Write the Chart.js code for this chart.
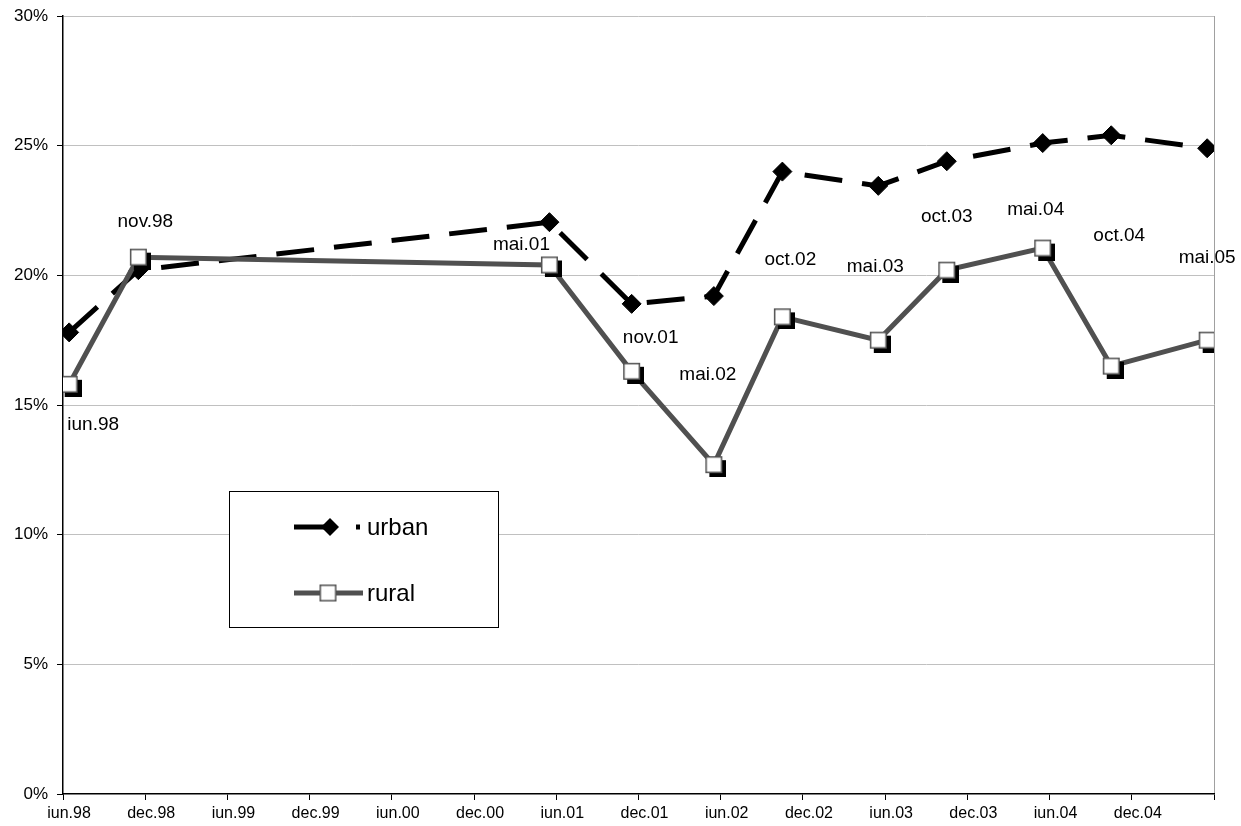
<!DOCTYPE html>
<html>
<head>
<meta charset="utf-8">
<script src="https://cdn.jsdelivr.net/npm/chart.js@4.4.0/dist/chart.umd.min.js"></script>
<style>
  html, body { margin: 0; padding: 0; background: #fff; }
</style>
</head>
<body>
<canvas id="my-chart" width="1241" height="826"></canvas>
<script>
// survey rounds (month index counted from june 1998)
const categories = ['iun.98', 'nov.98', 'mai.01', 'nov.01', 'mai.02', 'oct.02', 'mai.03', 'oct.03', 'mai.04', 'oct.04', 'mai.05'];
const monthPos = [0.45, 5.5, 35.5, 41.5, 47.5, 52.5, 59.5, 64.5, 71.5, 76.5, 83.5];
const urban = [17.8, 20.2, 22.05, 18.9, 19.2, 24.0, 23.45, 24.4, 25.1, 25.4, 24.9];
const rural = [15.8, 20.7, 20.4, 16.3, 12.7, 18.4, 17.5, 20.2, 21.05, 16.5, 17.5];
const tickLabels = ['iun.98', 'dec.98', 'iun.99', 'dec.99', 'iun.00', 'dec.00', 'iun.01', 'dec.01', 'iun.02', 'dec.02', 'iun.03', 'dec.03', 'iun.04', 'dec.04'];

// where the round names sit, in px from the rural point
const labelOffsets = [[24, 41], [7, -35], [-28, -20], [19, -34], [-6, -90], [8, -57], [-3, -73], [0, -53], [-7, -38], [8, -130], [0, -82]];

const FONT = '"Liberation Sans", Arial, sans-serif';
const GREY = '#505050';

// white square with a black drop shadow, used as the rural marker
function squareMarker(shadow) {
  const c = document.createElement('canvas');
  c.width = 25; c.height = 25;
  const g = c.getContext('2d');
  if (shadow) {
    g.fillStyle = '#000';
    g.fillRect(8, 8, 17, 17);
  }
  g.fillStyle = '#fff';
  g.fillRect(4, 4, 17, 17);
  g.strokeStyle = GREY;
  g.lineWidth = 1.5;
  g.strokeRect(4.75, 4.75, 15.5, 15.5);
  return c;
}
const ruralMarker = squareMarker(true);
const legendMarker = squareMarker(false);

const roundLabels = {
  id: 'roundLabels',
  afterDatasetsDraw(chart) {
    const ctx = chart.ctx;
    const meta = chart.getDatasetMeta(1);
    ctx.save();
    ctx.font = '19px ' + FONT;
    ctx.fillStyle = '#000';
    ctx.textAlign = 'center';
    ctx.textBaseline = 'middle';
    meta.data.forEach((pt, i) => {
      ctx.fillText(categories[i], pt.x + labelOffsets[i][0], pt.y + labelOffsets[i][1]);
    });
    ctx.restore();
  }
};

const boxLegend = {
  id: 'boxLegend',
  afterDraw(chart) {
    const ctx = chart.ctx;
    const a = chart.chartArea;
    const x = a.left + 166, y = a.top + 475, w = 269, h = 136;
    ctx.save();
    ctx.fillStyle = '#fff';
    ctx.fillRect(x, y, w, h);
    ctx.strokeStyle = '#000';
    ctx.lineWidth = 1;
    ctx.strokeRect(x + 0.5, y + 0.5, w, h);

    // urban
    const y1 = y + 36;
    ctx.strokeStyle = '#000';
    ctx.lineWidth = 5;
    ctx.setLineDash([33, 29]);
    ctx.beginPath();
    ctx.moveTo(x + 65, y1);
    ctx.lineTo(x + 131, y1);
    ctx.stroke();
    ctx.setLineDash([]);
    ctx.fillStyle = '#000';
    ctx.beginPath();
    ctx.moveTo(x + 101, y1 - 9);
    ctx.lineTo(x + 110, y1);
    ctx.lineTo(x + 101, y1 + 9);
    ctx.lineTo(x + 92, y1);
    ctx.closePath();
    ctx.fill();

    // rural
    const y2 = y + 102;
    ctx.strokeStyle = GREY;
    ctx.beginPath();
    ctx.moveTo(x + 65, y2);
    ctx.lineTo(x + 134, y2);
    ctx.stroke();
    ctx.drawImage(legendMarker, x + 99 - 12.5, y2 - 12.5);

    ctx.fillStyle = '#000';
    ctx.font = '24px ' + FONT;
    ctx.textAlign = 'left';
    ctx.textBaseline = 'middle';
    ctx.fillText('urban', x + 138, y1 + 1);
    ctx.fillText('rural', x + 138, y2 + 1);
    ctx.restore();
  }
};

const ctx = document.getElementById('my-chart').getContext('2d');
const chart = new Chart(ctx, {
  type: 'line',
  data: {
    datasets: [
      {
        label: 'urban',
        data: monthPos.map((m, i) => ({ x: m, y: urban[i] })),
        borderColor: '#000',
        borderWidth: 5,
        borderDash: [38, 20],
        pointStyle: 'rectRot',
        pointRadius: 9.5,
        pointBackgroundColor: '#000',
        pointBorderColor: '#000',
        pointBorderWidth: 1,
        tension: 0,
        order: 1
      },
      {
        label: 'rural',
        data: monthPos.map((m, i) => ({ x: m, y: rural[i] })),
        borderColor: GREY,
        borderWidth: 5,
        pointStyle: ruralMarker,
        pointRadius: 9,
        tension: 0,
        order: 0
      }
    ]
  },
  options: {
    responsive: false,
    animation: false,
    devicePixelRatio: 1,
    layout: { padding: { top: 16, right: 27, left: 0, bottom: 0 } },
    plugins: {
      legend: { display: false },
      tooltip: { enabled: false }
    },
    scales: {
      x: {
        type: 'linear',
        min: 0,
        max: 84,
        afterFit: s => { s.height = 32; s.paddingLeft = 0; s.paddingRight = 0; },
        ticks: {
          stepSize: 6,
          autoSkip: false,
          maxRotation: 0,
          labelOffset: 6,
          padding: 4,
          color: '#000',
          font: { family: FONT, size: 16 },
          callback: (v, i) => tickLabels[i] || ''
        },
        grid: {
          color: c => (c.tick && c.tick.value === 84 ? '#a0a0a0' : 'rgba(0,0,0,0)'),
          tickColor: '#000',
          tickLength: 6
        },
        border: { color: '#000', width: 1.5 }
      },
      y: {
        min: 0,
        max: 30,
        afterFit: s => { s.width = 63; s.paddingTop = 0; s.paddingBottom = 0; },
        ticks: {
          stepSize: 5,
          padding: 9,
          color: '#000',
          font: { family: FONT, size: 17 },
          callback: v => v + '%'
        },
        grid: {
          color: c => (c.tick && c.tick.value === 0 ? 'rgba(0,0,0,0)' : '#c0c0c0'),
          tickColor: '#000',
          tickLength: 6
        },
        border: { color: '#000', width: 1.5 }
      }
    }
  },
  plugins: [roundLabels, boxLegend]
}); // closes chart = new Chart()
</script>
</body>
</html>
